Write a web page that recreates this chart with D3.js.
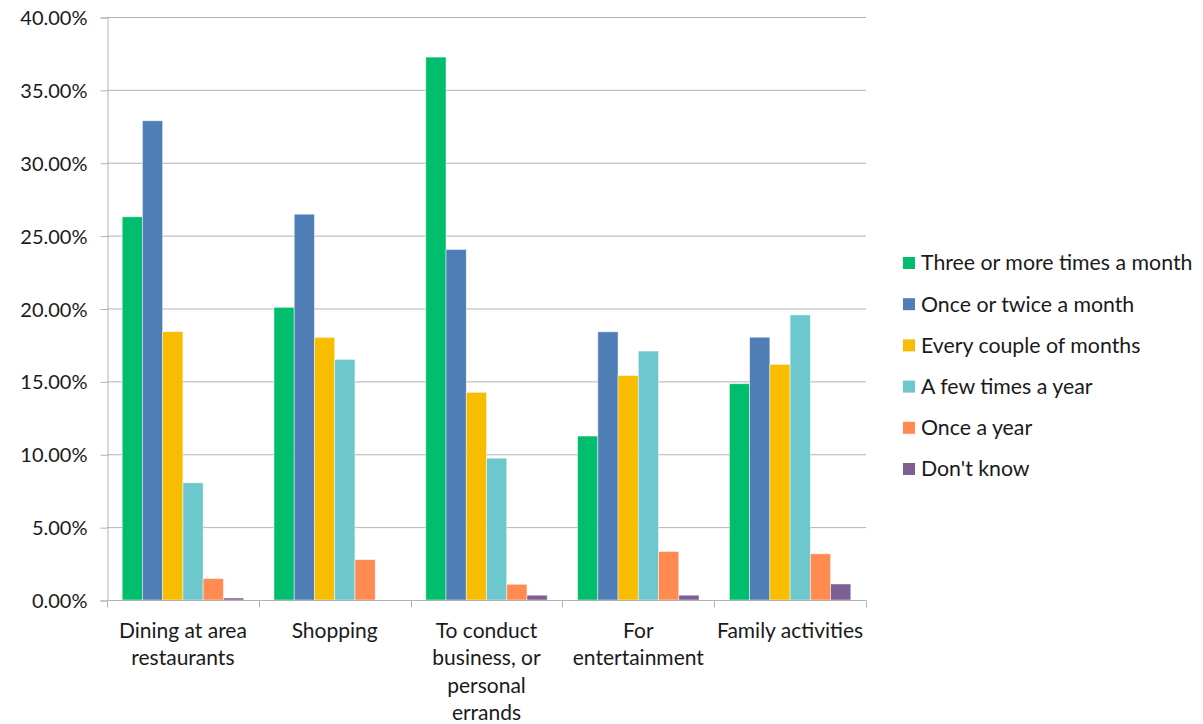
<!DOCTYPE html>
<html><head><meta charset="utf-8">
<script src="https://cdn.jsdelivr.net/npm/d3@7"></script>
<style>body{margin:0;background:#fff}svg{display:block}text{font-family:Lato,"Open Sans",sans-serif;fill:#1a1a1a}</style>
</head><body><svg id="c" width="1203" height="724"></svg>
<script>
const categories = [["Dining at area","restaurants"],["Shopping"],["To conduct","business, or","personal","errands"],["For","entertainment"],["Family activities"]];
const seriesNames = ["Three or more times a month","Once or twice a month","Every couple of months","A few times a year","Once a year","Don't know"];
const seriesColors = ["#00BE6E","#4F7DB5","#F8BC00","#6CC8CC","#FF8B50","#7E5F94"];
const threeOrMore = [0.2629,0.2008,0.3725,0.1125,0.1484];
const onceOrTwice = [0.3288,0.2647,0.2405,0.1840,0.1803];
const everyCouple = [0.1841,0.1802,0.1425,0.1540,0.1617];
const fewTimes = [0.0804,0.1651,0.0973,0.1708,0.1956];
const onceYear = [0.0147,0.0277,0.0108,0.0333,0.0317];
const dontKnow = [0.0014,0,0.0033,0.0033,0.0110];
const yTicks = [0,0.05,0.10,0.15,0.20,0.25,0.30,0.35,0.40];
const series = [threeOrMore,onceOrTwice,everyCouple,fewTimes,onceYear,dontKnow];

const svg = d3.select("#c");
const x0 = d3.scaleBand().domain(d3.range(categories.length)).range([107,866]).paddingInner(0).paddingOuter(0);
const y = d3.scaleLinear().domain([0,0.4]).range([600,17]);
const bw = x0.bandwidth()/7.5;
const x1 = d3.scaleBand().domain(d3.range(series.length)).range([bw*0.75, bw*6.75]).padding(0);

// gridlines
svg.append("g").selectAll("line").data(yTicks.slice(1)).join("line")
  .attr("x1",107).attr("x2",866).attr("y1",d=>y(d)+0.5).attr("y2",d=>y(d)+0.5)
  .attr("stroke","#b3b3b3").attr("stroke-width",1);

// y axis
const yAxis = d3.axisLeft(y).tickValues(yTicks).tickFormat(d=>(d*100).toFixed(2)+"%").tickSize(7).tickPadding(13);
const gy = svg.append("g").attr("transform","translate(107.5,0.5)").call(yAxis);
gy.select(".domain").attr("stroke","#b3b3b3");
gy.selectAll(".tick line").attr("stroke","#b3b3b3");
gy.selectAll("text").attr("font-size",20).attr("font-family","Lato,sans-serif").attr("fill","#1a1a1a").attr("dy","0.35em");

// bars
const groups = svg.append("g").selectAll("g").data(series).join("g").attr("fill",(d,i)=>seriesColors[i]);
groups.selectAll("rect").data((d,si)=>d.map((v,ci)=>({v,ci,si}))).join("rect")
  .attr("x",d=>x0(d.ci)+x1(d.si))
  .attr("width",x1.bandwidth())
  .attr("y",d=>y(d.v))
  .attr("height",d=>y(0)-y(d.v))
  .attr("stroke","#ffffff").attr("stroke-opacity",0.6).attr("stroke-width",0.8);

// x axis
const xAxisScale = d3.scaleLinear().domain([0,categories.length]).range([107,866]);
const gx = svg.append("g").attr("transform","translate(0,600.5)");
gx.append("line").attr("x1",107).attr("x2",866).attr("stroke","#b3b3b3");
gx.selectAll("line.t").data(d3.range(categories.length+1)).join("line").attr("class","t")
  .attr("x1",d=>Math.round(xAxisScale(d))+0.5).attr("x2",d=>Math.round(xAxisScale(d))+0.5)
  .attr("y1",0).attr("y2",7).attr("stroke","#b3b3b3");
const lbl = gx.selectAll("text").data(categories).join("text")
  .attr("text-anchor","middle").attr("font-size",21)
  .attr("x",(d,i)=>x0(i)+x0.bandwidth()/2).attr("y",37);
lbl.selectAll("tspan").data(d=>d).join("tspan")
  .attr("x",function(){return this.parentNode.getAttribute("x");})
  .attr("dy",(d,i)=>i===0?0:27.5).text(d=>d);

// legend
const lg = svg.append("g").selectAll("g").data(seriesNames).join("g")
  .attr("transform",(d,i)=>`translate(903,${263+i*41.2})`);
lg.append("rect").attr("x",0).attr("y",-6).attr("width",12).attr("height",12).attr("fill",(d,i)=>seriesColors[i]);
lg.append("text").attr("x",18).attr("y",0).attr("dy","0.35em").attr("font-size",21.3).text(d=>d);
</script></body></html>
